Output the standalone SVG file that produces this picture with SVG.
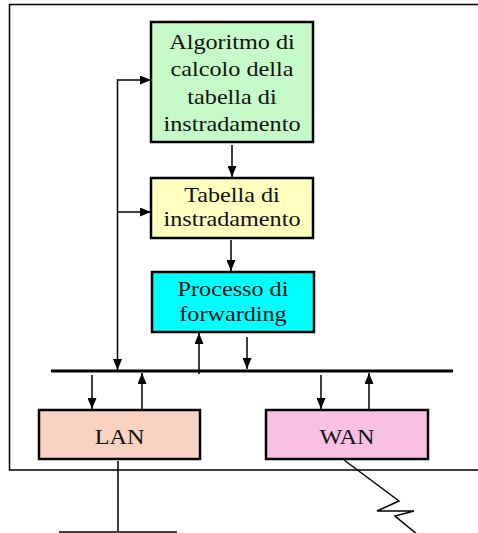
<svg xmlns="http://www.w3.org/2000/svg" width="478" height="533" viewBox="0 0 478 533">
<style>
.box{stroke:#000;stroke-width:2.5}
.t{font-family:"Liberation Serif","Times New Roman",serif;font-size:22px;fill:#111;text-anchor:middle}
.c{fill:none;stroke:#000;stroke-width:1.5}
</style>
<defs>
<marker id="ah" viewBox="0 0 11 9" refX="11" refY="4.5" markerWidth="11" markerHeight="9" markerUnits="userSpaceOnUse" orient="auto-start-reverse">
<path d="M0,0 L11,4.5 L0,9 Z" fill="#000"/>
</marker>
</defs>
<rect width="478" height="533" fill="#fff"/>
<path d="M480,4.5 H9.5 V470 H480" fill="none" stroke="#000" stroke-width="1.5"/>
<g id="algoritmo">
<rect class="box" x="151" y="22" width="162" height="120" fill="#c6fac8"/>
<g transform="translate(232 0) scale(1.1 1)">
<text class="t" x="0" y="49">Algoritmo di</text>
<text class="t" x="0" y="76.5">calcolo della</text>
<text class="t" x="0" y="104">tabella di</text>
<text class="t" x="0" y="131.5">instradamento</text>
</g>
</g>
<g id="tabella">
<rect class="box" x="151" y="178" width="162" height="60" fill="#ffffc0"/>
<g transform="translate(232 0) scale(1.1 1)">
<text class="t" x="0" y="202.5">Tabella di</text>
<text class="t" x="0" y="226.5">instradamento</text>
</g>
</g>
<g id="forwarding">
<rect class="box" x="152" y="272" width="162" height="60" fill="#00ffff"/>
<g transform="translate(233 0) scale(1.1 1)">
<text class="t" x="0" y="296.5">Processo di</text>
<text class="t" x="0" y="321">forwarding</text>
</g>
</g>
<g id="lan">
<rect class="box" x="39" y="410" width="161" height="49" fill="#fad2c2"/>
<g transform="translate(119.5 0) scale(1.1 1)">
<text class="t" x="0" y="444">LAN</text>
</g>
</g>
<g id="wan">
<rect class="box" x="266" y="410" width="162" height="49" fill="#f9c0e4"/>
<g transform="translate(347 0) scale(1.1 1)">
<text class="t" x="0" y="444">WAN</text>
</g>
</g>
<g id="connectors">
<line x1="51" y1="371" x2="453" y2="371" stroke="#000" stroke-width="3"/>
<path class="c" d="M151,80 H117.5 V370" marker-start="url(#ah)" marker-end="url(#ah)"/>
<line class="c" x1="117.5" y1="212" x2="151" y2="212" marker-end="url(#ah)"/>
<line class="c" x1="232" y1="145" x2="232" y2="177" marker-end="url(#ah)"/>
<line class="c" x1="231" y1="240" x2="231" y2="271" marker-end="url(#ah)"/>
<line class="c" x1="199" y1="374" x2="199" y2="333" marker-end="url(#ah)"/>
<line class="c" x1="247" y1="337" x2="247" y2="369" marker-end="url(#ah)"/>
<line class="c" x1="92" y1="375" x2="92" y2="409" marker-end="url(#ah)"/>
<line class="c" x1="142" y1="409" x2="142" y2="373" marker-end="url(#ah)"/>
<line class="c" x1="321" y1="375" x2="321" y2="409" marker-end="url(#ah)"/>
<line class="c" x1="369" y1="409" x2="369" y2="373" marker-end="url(#ah)"/>
<path class="c" d="M118,461 V531 M59,532 H177"/>
<path class="c" d="M344,460 L399,501 L377,511 L414,511 L395,516 L418,535"/>
</g>
</svg>
